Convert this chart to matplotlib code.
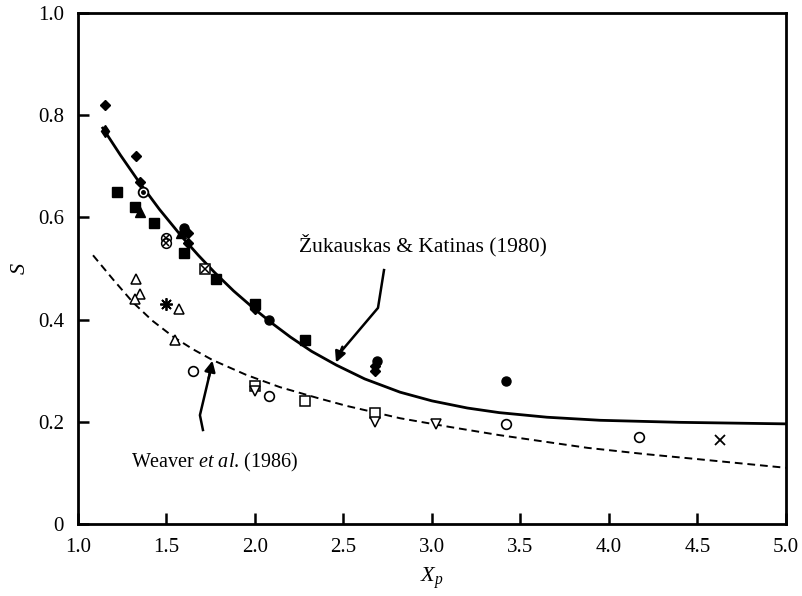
import matplotlib.pyplot as plt

plt.rcParams.update({
    'font.family': 'serif',
    'font.serif': ['Liberation Serif', 'DejaVu Serif'],
    'mathtext.fontset': 'custom',
    'mathtext.it': 'Liberation Serif:italic',
    'mathtext.rm': 'Liberation Serif',
    'font.size': 15,
})

# curves
zuk_x = [1.14, 1.24, 1.34, 1.46, 1.59, 1.68, 1.77, 1.88, 2.0, 2.1, 2.2, 2.32, 2.46,
         2.62, 2.82, 3.0, 3.2, 3.38, 3.65, 3.95, 4.4, 5.0]
zuk_y = [0.775, 0.722, 0.672, 0.616, 0.561, 0.526, 0.493, 0.456, 0.42, 0.392, 0.366, 0.338, 0.311,
         0.284, 0.258, 0.241, 0.227, 0.218, 0.209, 0.203, 0.199, 0.196]
wea_x = [1.085, 1.2, 1.31, 1.42, 1.54, 1.65, 1.76, 1.95, 2.14, 2.35, 2.52, 2.82, 3.1,
         3.38, 3.88, 4.2, 4.5, 5.0]
wea_y = [0.526, 0.478, 0.434, 0.398, 0.366, 0.342, 0.321, 0.292, 0.268, 0.247, 0.231, 0.207, 0.19,
         0.174, 0.149, 0.137, 0.127, 0.11]

# filled markers
fd_x = [1.15, 1.33, 1.35, 1.62, 1.62, 2.0, 2.68, 2.68]
fd_y = [0.82, 0.72, 0.67, 0.57, 0.55, 0.42, 0.31, 0.30]
fs_x = [1.22, 1.32, 1.43, 1.60, 1.78, 2.0, 2.28]
fs_y = [0.65, 0.62, 0.59, 0.53, 0.48, 0.43, 0.36]
ft_x = [1.35, 1.58]
ft_y = [0.61, 0.57]
fc_x = [1.60, 2.08, 2.69, 3.42]
fc_y = [0.58, 0.40, 0.32, 0.28]

# open markers
oc_x = [1.65, 2.08, 3.42, 4.17]
oc_y = [0.30, 0.25, 0.195, 0.17]
ot_x = [1.33, 1.35, 1.32, 1.57, 1.55]
ot_y = [0.48, 0.45, 0.44, 0.42, 0.36]
os_x = [2.0, 2.28, 2.68]
os_y = [0.27, 0.24, 0.218]
odt_x = [2.0, 2.68, 3.02]
odt_y = [0.26, 0.20, 0.195]
cdot_x = [1.37]
cdot_y = [0.65]
ccross_x = [1.50, 1.50]
ccross_y = [0.56, 0.55]
scross_x = [1.72]
scross_y = [0.50]
star_x = [1.50]
star_y = [0.43]
plus_x = [1.15]
plus_y = [0.77]
xx = [4.63]
xy = [0.165]

fig = plt.figure(figsize=(8.03, 5.96), dpi=100)
ax = fig.add_axes([0.0971, 0.1208, 0.8817, 0.8572])

ax.plot(zuk_x, zuk_y, color='black', lw=2.0)
ax.plot(wea_x, wea_y, color='black', lw=1.4, dashes=(4, 2.5))

k = dict(color='black', ls='none')
ax.plot(fd_x, fd_y, marker='D', ms=5.5, **k)
ax.plot(fs_x, fs_y, marker='s', ms=7, **k)
ax.plot(ft_x, ft_y, marker='^', ms=7.5, **k)
ax.plot(fc_x, fc_y, marker='o', ms=6.5, **k)
ax.plot(plus_x, plus_y, marker='d', ms=6, **k)
ax.plot(oc_x, oc_y, marker='o', ms=7, mfc='white', mew=1.2, **k)
ax.plot(ot_x, ot_y, marker='^', ms=7.5, mfc='white', mew=1.1, **k)
ax.plot(os_x, os_y, marker='s', ms=7, mfc='white', mew=1.1, **k)
ax.plot(odt_x, odt_y, marker='v', ms=7, mfc='white', mew=1.1, **k)
ax.plot(cdot_x, cdot_y, marker='o', ms=7, mfc='white', mew=1.3, **k)
ax.plot(cdot_x, cdot_y, marker='o', ms=2.5, **k)
ax.plot(ccross_x, ccross_y, marker='o', ms=7, mfc='white', mew=1.1, **k)
ax.plot(ccross_x, ccross_y, marker='x', ms=5, mew=1.1, **k)
ax.plot(scross_x, scross_y, marker='s', ms=7, mfc='white', mew=1.1, **k)
ax.plot(scross_x, scross_y, marker='x', ms=6, mew=1.1, **k)
ax.plot(star_x, star_y, marker=(8, 2, 0), ms=9, mew=1.3, **k)
ax.plot(xx, xy, marker='x', ms=7, mew=1.3, **k)

# annotation arrows
ax.plot([2.729, 2.695, 2.48], [0.497, 0.423, 0.335], color='black', lw=1.8)
ax.annotate('', xy=(2.452, 0.311), xytext=(2.50, 0.352),
            arrowprops=dict(arrowstyle='-|>', color='black', lw=1.8, mutation_scale=16))
ax.plot([1.706, 1.689, 1.745], [0.184, 0.213, 0.295], color='black', lw=1.8)
ax.annotate('', xy=(1.763, 0.325), xytext=(1.735, 0.28),
            arrowprops=dict(arrowstyle='-|>', color='black', lw=1.8, mutation_scale=16))

ax.text(2.95, 0.545, 'Žukauskas & Katinas (1980)', ha='center', va='center', fontsize=15.5)
ax.text(1.77, 0.12, r'Weaver $et\ al$. (1986)', ha='center', va='center', fontsize=14.5)

ax.set_xlim(1.0, 5.0)
ax.set_ylim(0, 1.0)
ax.set_xticks([1.0, 1.5, 2.0, 2.5, 3.0, 3.5, 4.0, 4.5, 5.0])
ax.set_xticklabels(['1.0', '1.5', '2.0', '2.5', '3.0', '3.5', '4.0', '4.5', '5.0'])
ax.set_yticks([0, 0.2, 0.4, 0.6, 0.8, 1.0])
ax.set_yticklabels(['0', '0.2', '0.4', '0.6', '0.8', '1.0'])
ax.tick_params(direction='in', length=8, width=1.8, labelsize=15, pad=10)
for s in ax.spines.values():
    s.set_linewidth(2)

ax.set_xlabel(r'$X_p$', fontsize=16, labelpad=6)
ax.set_ylabel(r'$S$', fontsize=16, labelpad=6)

plt.savefig('out.png', dpi=100)
